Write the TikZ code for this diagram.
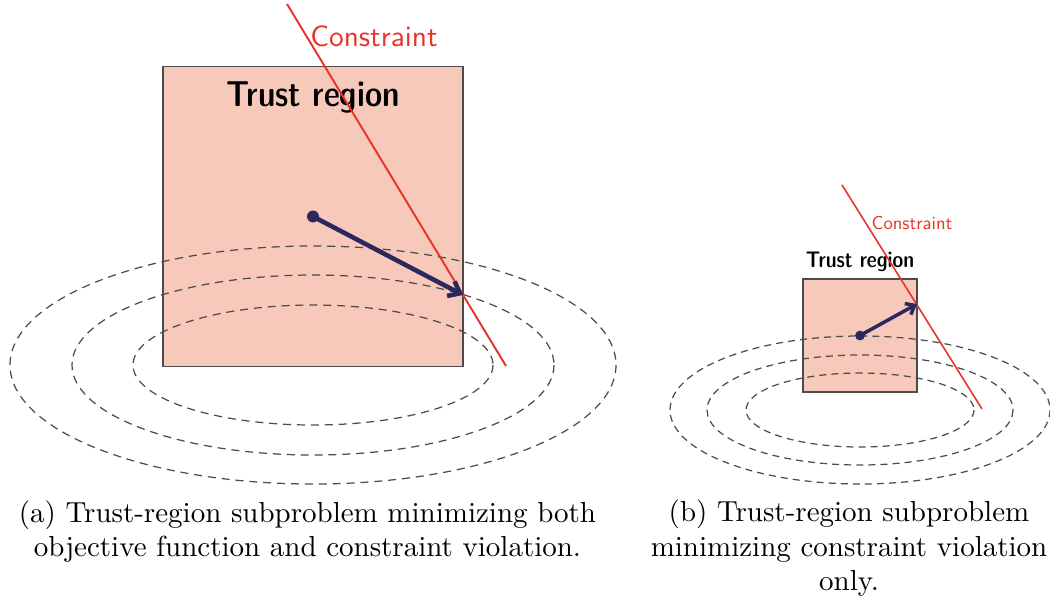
\documentclass[tikz,border=0pt]{standalone}
\usetikzlibrary{arrows.meta,positioning}

\definecolor{regionfill}{RGB}{247,201,186}
\definecolor{constred}{RGB}{232,52,40}
\definecolor{stepnavy}{RGB}{42,40,92}

% fixed design sizes, scaled
\font\capfont="[lmroman10-regular]:mapping=tex-text" at 16.5pt
\font\constbig="[lmsans10-regular]:mapping=tex-text" at 16.7pt
\font\constsmall="[lmsans10-regular]:mapping=tex-text" at 10.6pt

\begin{document}
\begin{tikzpicture}[
  x=0.02cm, y=-0.02cm,
  region/.style={
    draw=black!70, line width=1pt, fill=regionfill,
    minimum size=#1, inner sep=0pt
  },
  regionlbl/.style={anchor=base, inner sep=0pt,
    font=\fontsize{#1}{#1}\fontseries{sbc}\sffamily},
  constlbl/.style={anchor=base, inner sep=0pt, text=constred, font=#1},
  constline/.style={constred, line width=#1},
  level/.style={black!70, line width=0.7pt, dash pattern=on #1 off 0.72*#1},
  stepvec/.style={stepnavy, line width=#1, -{Straight Barb[length=2.2*#1, width=3.6*#1]}},
  capt/.style={align=center, inner sep=0pt, font=\fontsize{16.5}{19.7}\selectfont\capfont}
]
\useasboundingbox (0,0) rectangle (1050,600);

% (a) large trust region
\node[region=6cm] (tr1) at (313,216.5) {};
\coordinate (ctr1) at (313,365);
\draw[level=4.6pt] (ctr1) ellipse [x radius=303, y radius=119];
\draw[level=4.6pt] (ctr1) ellipse [x radius=241, y radius=90];
\draw[level=4.6pt] (ctr1) ellipse [x radius=180, y radius=60];
\node[regionlbl=20.5] (lbl1) at (313,106) {Trust region};

\coordinate (cla) at (287,4);
\coordinate (clb) at (506,366);
\draw[constline=1.1pt] (cla) -- (clb);
\node[constlbl=\constbig] (cn1) at (374,46) {Constraint};

\coordinate (tip1) at (463,295);
\draw[stepvec=2.6pt] (tr1.center) -- (tip1);
\fill[stepnavy] (tr1.center) circle (3.4pt);

% (b) small trust region
\node[region=2.27cm] (tr2) at (860,335.5) {};
\coordinate (ctr2) at (860,410);
\draw[level=4pt] (ctr2) ellipse [x radius=190, y radius=74];
\draw[level=4pt] (ctr2) ellipse [x radius=153, y radius=55];
\draw[level=4pt] (ctr2) ellipse [x radius=114, y radius=37];
\node[regionlbl=12.8] (lbl2) at (860,267) {Trust region};

\coordinate (clc) at (842,185);
\coordinate (cld) at (982,409);
\draw[constline=0.9pt] (clc) -- (cld);
\node[constlbl=\constsmall] (cn2) at (912,229) {Constraint};

\coordinate (tip2) at (917,304);
\draw[stepvec=2pt] (tr2.center) -- (tip2);
\fill[stepnavy] (tr2.center) circle (2.8pt);

% captions
\node[capt] (cap1) at (307.5,531.4) {(a) Trust-region subproblem minimizing both\\objective function and constraint violation.};
\node[capt] (cap2) at (849,548.4) {(b) Trust-region subproblem\\minimizing constraint violation\\only.};
\end{tikzpicture}
\end{document}
